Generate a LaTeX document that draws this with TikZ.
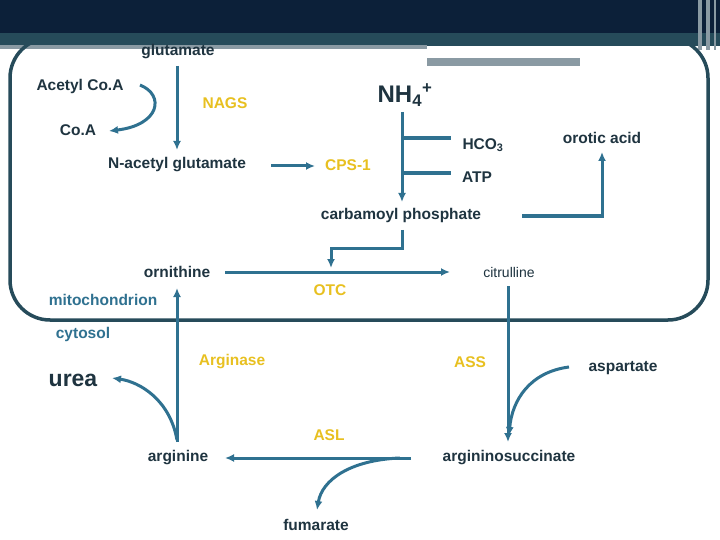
\documentclass[tikz,border=0pt]{standalone}
\usepackage{fontspec}
\setmainfont{Liberation Sans}
\usetikzlibrary{arrows.meta}
\definecolor{navy}{HTML}{0C2039}
\definecolor{tealdk}{HTML}{264B5A}
\definecolor{grayb}{HTML}{8A9AA3}
\definecolor{arr}{HTML}{2F7190}
\definecolor{txt}{HTML}{1F3440}
\definecolor{yel}{HTML}{E8C020}
\definecolor{mito}{HTML}{2F7190}
\tikzset{x=1pt,y=-1pt,
 lab/.style={font=\bfseries\fontsize{15.5}{18}\selectfont,text=txt,inner sep=1pt},
 enz/.style={font=\bfseries\fontsize{15.5}{18}\selectfont,text=yel,inner sep=1pt},
 cmp/.style={font=\bfseries\fontsize{15.5}{18}\selectfont,text=mito,inner sep=1pt},
 ar/.style={draw=arr,line width=3pt,-{Latex[length=9pt,width=8pt]}},
 thick ln/.style={draw=arr,line width=4pt}}
\begin{document}
\begin{tikzpicture}
\useasboundingbox (0,0) rectangle (720,540);
\fill[white] (0,0) rectangle (720,540);
\fill[navy] (0,0) rectangle (720,33);
\fill[tealdk] (0,33) rectangle (720,46);
\fill[grayb] (0,45) rectangle (427,49);
\fill[grayb] (427,58) rectangle (580,66);
\fill[grayb] (698,0) rectangle (702,50);
\fill[grayb] (706,0) rectangle (710,50);
\fill[grayb] (714,0) rectangle (716,50);
\draw[tealdk,line width=3.5pt,rounded corners=40pt] (10,38) rectangle (708,320);
% nodes
\node[lab] (glu) at (178,52) {glutamate};
\node[lab] (acoa) at (80,86) {Acetyl Co.A};
\node[enz] (nags) at (225,103) {NAGS};
\node[lab] (coa) at (78,130) {Co.A};
\node[font=\bfseries\fontsize{24}{28}\selectfont,text=txt] (nh4) at (405,95) {NH\textsubscript{4}\textsuperscript{+}};
\node[lab] (nag) at (177,165) {N-acetyl glutamate};
\node[enz] (cps) at (348,165) {CPS-1};
\node[lab] (hco) at (483,145) {HCO\textsubscript{3}};
\node[lab] (atp) at (477,177) {ATP};
\node[lab] (oro) at (602,138) {orotic acid};
\node[lab] (cp) at (401,215) {carbamoyl phosphate};
\node[lab] (orn) at (177,272) {ornithine};
\node[font=\fontsize{14}{16}\selectfont,text=txt] (cit) at (509,272) {citrulline};
\node[enz] (otc) at (330,290) {OTC};
\node[cmp] (mit) at (103,300) {mitochondrion};
\node[cmp] (cyt) at (83,334) {cytosol};
\node[enz] (argn) at (232,362) {Arginase};
\node[enz] (ass) at (470,362) {ASS};
\node[lab] (asp) at (623,368) {aspartate};
\node[font=\bfseries\fontsize{23}{27}\selectfont,text=txt] (urea) at (73,380) {urea};
\node[enz] (asl) at (329,435) {ASL};
\node[lab] (arg) at (178,458) {arginine};
\node[lab] (as) at (509,458) {argininosuccinate};
\node[lab] (fum) at (316,525) {fumarate};
% connectors
\coordinate (g1) at (177,66); \coordinate (g2) at (177,150);
\draw[ar] (g1) -- (g2);
\coordinate (a1) at (140,85); \coordinate (a2) at (109,131);
\draw[ar] (a1) .. controls (165,95) and (160,125) .. (a2);
\coordinate (nc1) at (271,166); \coordinate (nc2) at (315,166);
\draw[ar] (nc1) -- (nc2);
\coordinate (n1) at (402,112); \coordinate (n2) at (402,202);
\draw[ar] (n1) -- (n2);
\coordinate (b1) at (451,138); \coordinate (b2) at (451,173);
\draw[thick ln] (402,138) -- (b1);
\draw[thick ln] (402,173) -- (b2);
\coordinate (o1) at (522,216); \coordinate (o2) at (602,152);
\draw[thick ln] (o1) -- (604,216);
\draw[ar] (602,218) -- (o2);
\coordinate (c1) at (402,230); \coordinate (c2) at (331,268);
\draw[ar] (c1) -- (402,248) -- (331,248) -- (c2);
\coordinate (oc1) at (225,272); \coordinate (oc2) at (450,272);
\draw[ar] (oc1) -- (oc2);
\coordinate (ci1) at (508,286); \coordinate (ci2) at (508,442);
\draw[ar] (ci1) -- (ci2);
\coordinate (sp1) at (569,367);
\draw[ar] (sp1) .. controls (530,372) and (512,400) .. (509,436);
\coordinate (ar1) at (177,442); \coordinate (ar2) at (177,288);
\draw[ar] (ar1) -- (ar2);
\coordinate (u1) at (112,378);
\draw[ar] (177,440) .. controls (170,400) and (140,382) .. (u1);
\coordinate (s1) at (411,458); \coordinate (s2) at (225,458);
\draw[ar] (s1) -- (s2);
\coordinate (f1) at (400,458); \coordinate (f2) at (317,510);
\draw[ar] (f1) .. controls (350,460) and (322,480) .. (f2);
\end{tikzpicture}
\end{document}
